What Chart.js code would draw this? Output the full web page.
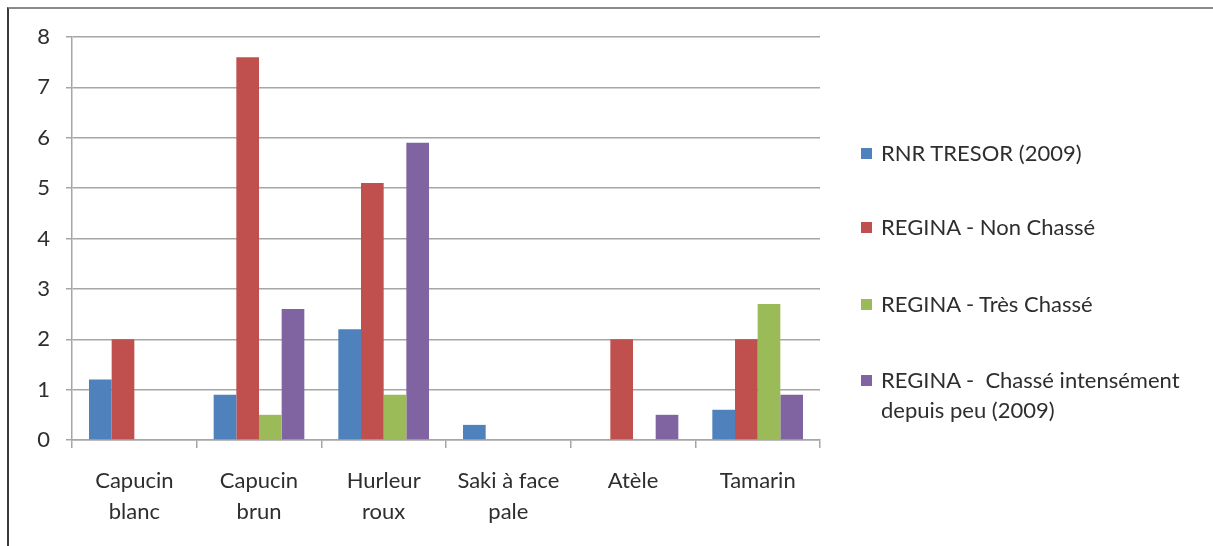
<!DOCTYPE html>
<html>
<head>
<meta charset="utf-8">
<script src="https://cdn.jsdelivr.net/npm/chart.js@4"></script>
<style>
    html, body { margin: 0; padding: 0; background: #fff; }
    #wrap { position: relative; width: 1213px; height: 546px; overflow: hidden; }
    #frame { position: absolute; left: 7px; top: 7px; right: 0; bottom: 0;
             border-top: 2px solid #8a8a8a; border-left: 2px solid #3a3a3a; }
    canvas { position: absolute; left: 0; top: 0; }
    #legend { position: absolute; left: 861px; top: 0; font-family: Lato, "Open Sans", sans-serif;
              font-size: 22px; color: #2e2e2e; }
    .item { position: absolute; white-space: pre; line-height: 30px; }
    .box { position: absolute; left: 0; width: 11px; height: 11px; }
    .txt { position: absolute; left: 20px; }
</style>
</head>
<body>
<div id="wrap">
    <div id="frame"></div>
    <canvas id="chart" width="1213" height="546"></canvas>
    <div id="legend"></div>
</div>
<script>
// Categories and series
const categories = [
    ['Capucin', 'blanc'],
    ['Capucin', 'brun'],
    ['Hurleur', 'roux'],
    ['Saki à face', 'pale'],
    'Atèle',
    'Tamarin'
];
const seriesNames = [
    'RNR TRESOR (2009)',
    'REGINA - Non Chassé',
    'REGINA - Très Chassé',
    ['REGINA -  Chassé intensément', 'depuis peu (2009)']
];
const rnrTresor = [1.2, 0.9, 2.2, 0.3, 0, 0.6];
const reginaNonChasse = [2, 7.6, 5.1, 0, 2, 2];
const reginaTresChasse = [0, 0.5, 0.9, 0, 0, 2.7];
const reginaIntense = [0, 2.6, 5.9, 0, 0.5, 0.9];
const yTicks = [0, 1, 2, 3, 4, 5, 6, 7, 8];

const colors = ['#4F81BD', '#C0504D', '#9BBB59', '#8064A2'];
const allSeries = [rnrTresor, reginaNonChasse, reginaTresChasse, reginaIntense];

// Legend (HTML, on the right)
const legendTops = [138, 212, 289, 365];
const legend = document.getElementById('legend');
seriesNames.forEach((name, i) => {
    const item = document.createElement('div');
    item.className = 'item';
    item.style.top = legendTops[i] + 'px';
    const lines = Array.isArray(name) ? name : [name];
    item.innerHTML = `<span class="box" style="background:${colors[i]};top:10px"></span>` +
        `<span class="txt">${lines.join('\n')}</span>`;
    legend.appendChild(item);
});

const ctx = document.getElementById('chart').getContext('2d');
new Chart(ctx, {
    type: 'bar',
    data: {
        labels: categories,
        datasets: allSeries.map((values, i) => ({
            label: Array.isArray(seriesNames[i]) ? seriesNames[i].join(' ') : seriesNames[i],
            data: values,
            backgroundColor: colors[i],
            borderWidth: 0,
            categoryPercentage: 4 / 5.5,
            barPercentage: 1
        }))
    },
    options: {
        responsive: false,
        animation: false,
        layout: {
            padding: { left: 0, right: 393, top: 37, bottom: 0 }
        },
        plugins: {
            legend: { display: false },
            tooltip: { enabled: false }
        },
        scales: {
            x: {
                grid: {
                    display: true,
                    drawOnChartArea: false,
                    drawTicks: true,
                    tickLength: 8,
                    color: '#a6a6a6',
                    lineWidth: 1.5
                },
                border: { color: '#a6a6a6', width: 1.5 },
                ticks: {
                    color: '#2e2e2e',
                    padding: 17,
                    maxRotation: 0,
                    autoSkip: false,
                    font: { family: 'Lato, "Open Sans", sans-serif', size: 22, lineHeight: 1.41 }
                },
                afterFit: scale => { scale.height = 106; }
            },
            y: {
                min: 0,
                max: 8,
                afterBuildTicks: scale => { scale.ticks = yTicks.map(v => ({ value: v })); },
                grid: {
                    color: '#a6a6a6',
                    lineWidth: 1.5,
                    tickLength: 6
                },
                border: { color: '#a6a6a6', width: 1.5 },
                ticks: {
                    color: '#2e2e2e',
                    padding: 16,
                    font: { family: 'Lato, "Open Sans", sans-serif', size: 22 }
                },
                afterFit: scale => { scale.width = 72; }
            }
        }
    }
});
</script>
</body>
</html>
